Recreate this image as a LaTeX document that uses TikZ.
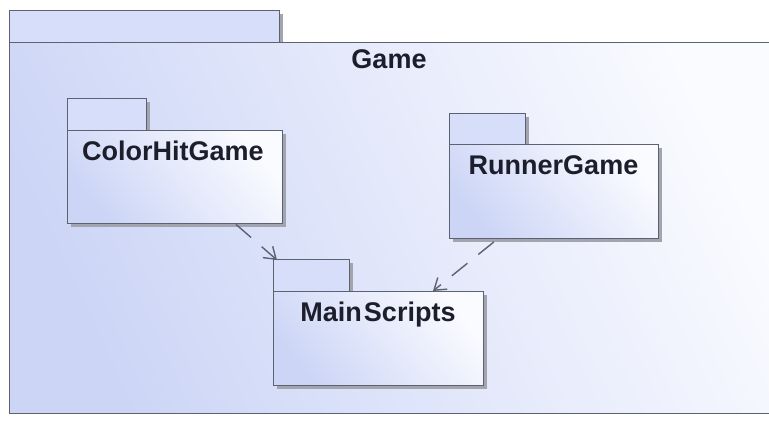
\documentclass[tikz,border=0pt]{standalone}
\usepackage{fontspec}
\setmainfont{Liberation Sans}
\usetikzlibrary{arrows.meta,shadows}

\definecolor{pkgline}{HTML}{5C6272}
\definecolor{pkgshadow}{HTML}{A2A4AE}
\definecolor{pkgblue}{HTML}{CCD5F6}
\definecolor{pkgtab}{HTML}{D6DEFA}
\definecolor{pkgpale}{HTML}{FAFBFF}
\definecolor{pkgtext}{HTML}{1C1E2C}

\tikzset{
  pkgframe/.style={draw=pkgline, line width=1.4pt, rectangle, inner sep=0pt,
    anchor=north west},
  pkgshape/.style={pkgframe,
    drop shadow={shadow xshift=3pt, shadow yshift=-3pt, fill=pkgshadow, opacity=1}},
  pkgtabbox/.style={pkgshape, fill=pkgtab},
  pkgbody/.style={pkgshape, shading=axis, top color=pkgblue, bottom color=pkgpale,
    shading angle=130},
  pkglabel/.style={anchor=base, inner sep=0pt, text=pkgtext,
    font=\fontsize{27}{31}\selectfont\bfseries},
  dependency/.style={draw=pkgline, line width=1.4pt,
    dash pattern=on 20pt off 14pt,
    -{Straight Barb[length=11pt,width=15pt,line width=1.4pt]}},
}

\begin{document}
\begin{tikzpicture}[x=1pt,y=1pt]
  \useasboundingbox (0,-421) rectangle (769,0);
  \fill[white] (0,-421) rectangle (769,0);
  \clip (0,-421) rectangle (769,0);

  % enclosing package "Game"
  \node[pkgtabbox, minimum width=270pt, minimum height=32pt] (gametab) at (9,-10) {};
  \node[pkgframe, shading=axis, top color=pkgblue, bottom color=pkgpale, shading angle=115,
        minimum width=780pt, minimum height=371pt] (game) at (9,-42) {};
  \node[pkglabel] (gamelabel) at (389,-68) {Game};

  % package ColorHitGame
  \node[pkgtabbox, minimum width=79pt, minimum height=32pt] (chgtab) at (67,-98) {};
  \node[pkgbody, minimum width=215pt, minimum height=93pt] (chg) at (67,-130) {};
  \node[pkglabel] (chglabel) at (173,-160) {ColorHitGame};

  % package RunnerGame
  \node[pkgtabbox, minimum width=76pt, minimum height=31pt] (rgtab) at (449,-113) {};
  \node[pkgbody, minimum width=209pt, minimum height=94pt] (rg) at (449,-144) {};
  \node[pkglabel] (rglabel) at (553.5,-174) {RunnerGame};

  % package MainScripts
  \node[pkgtabbox, minimum width=76pt, minimum height=32pt] (mstab) at (273,-259) {};
  \node[pkgbody, minimum width=210pt, minimum height=94pt] (ms) at (273,-291) {};
  \node[pkglabel] (mslabel) at (378,-321) {Main\kern2pt Scripts};

  % dependencies
  \coordinate (chgout) at (chg.south west -| 236,0);
  \coordinate (msin1) at (277,-260);
  \coordinate (rgout) at (rg.south west -| 497,0);
  \coordinate (msin2) at (433,-291);
  \draw[dependency, dash phase=0pt] (chgout) -- (msin1);
  \draw[dependency, dash phase=30pt] (rgout) -- (msin2);
\end{tikzpicture}
\end{document}
